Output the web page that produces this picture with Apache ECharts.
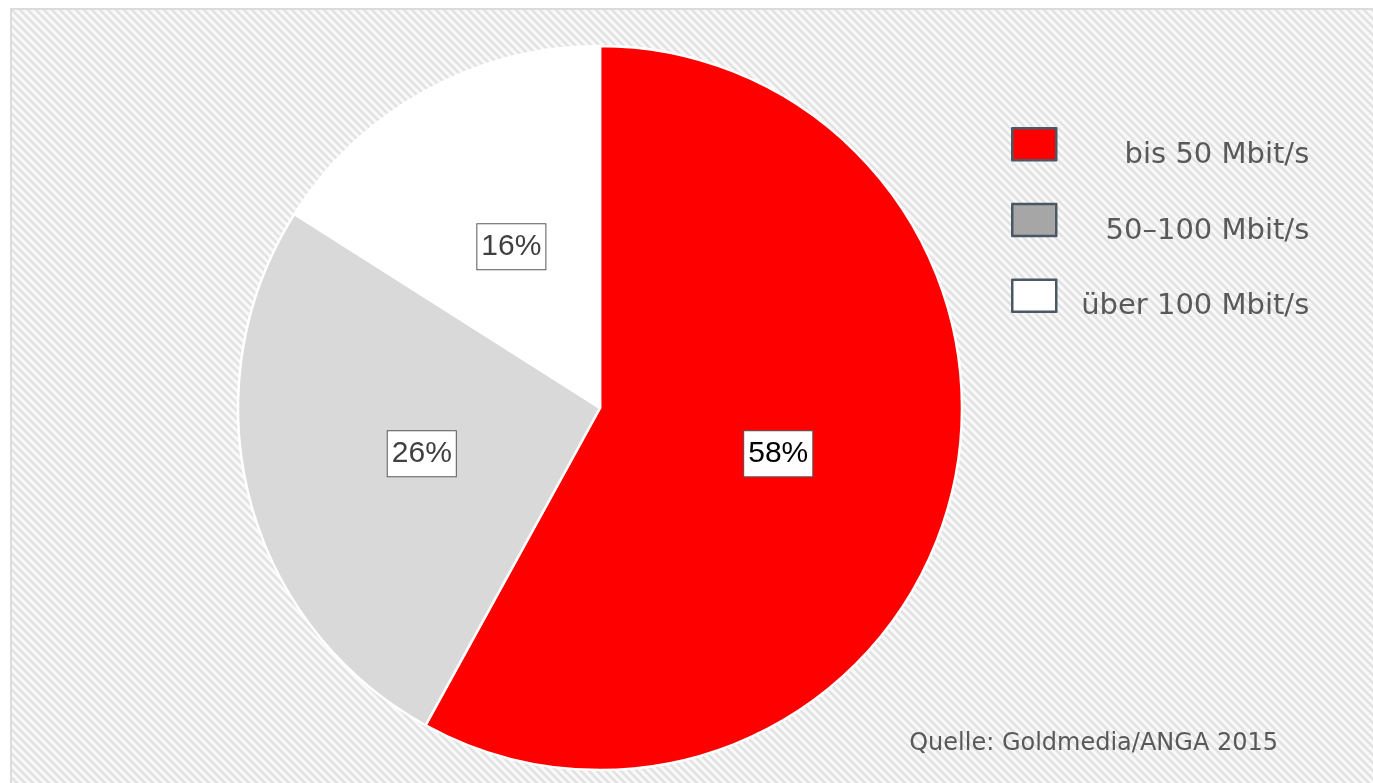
<!DOCTYPE html>
<html>
<head>
<meta charset="utf-8">
<script src="https://cdn.jsdelivr.net/npm/echarts@6/dist/echarts.min.js"></script>
<style>
  html, body { margin: 0; padding: 0; background: #fff; }
  #frame {
    position: absolute; left: 10px; top: 8px; right: 0; bottom: 0;
    border-left: 2px solid #dcdcdc; border-top: 2px solid #dcdcdc;
  }
  #chart { width: 100%; height: 100%; }
</style>
</head>
<body>
<div id="frame"><div id="chart"></div></div>
<script>
const categories = ['bis 50 Mbit/s', '50–100 Mbit/s', 'über 100 Mbit/s'];
const shares = [58, 26, 16];
const sliceColors = ['#ff0000', '#d9d9d9', '#ffffff'];
const legendColors = ['#ff0000', '#a6a6a6', '#ffffff'];
const source = 'Quelle: Goldmedia/ANGA 2015';

// striped background tile
const tile = document.createElement('canvas');
tile.width = tile.height = 8;
const ctx = tile.getContext('2d');
ctx.fillStyle = '#f9f9f9';
ctx.fillRect(0, 0, 8, 8);
ctx.strokeStyle = '#e2e2e2';
ctx.lineWidth = 2.6;
for (let o = -8; o <= 8; o += 8) {
  ctx.beginPath();
  ctx.moveTo(o - 2, -2);
  ctx.lineTo(o + 10, 10);
  ctx.stroke();
}

const chart = echarts.init(document.getElementById('chart'));

chart.setOption({
  backgroundColor: { image: tile, repeat: 'repeat' },
  animation: false,
  legend: {
    orient: 'vertical',
    icon: 'rect',
    left: 994,
    top: 112,
    itemWidth: 44,
    itemHeight: 32,
    itemGap: 33,
    selectedMode: false,
    data: categories.map((name, i) => ({
      name: name,
      itemStyle: { color: legendColors[i], borderColor: '#4a5866', borderWidth: 2.5 }
    })),
    formatter: name => '{t|' + name + '}',
    textStyle: {
      rich: {
        t: {
          width: 248,
          align: 'right',
          fontFamily: 'DejaVu Sans',
          fontSize: 29,
          color: '#595959',
          padding: [22, 0, 0, 0]
        }
      }
    }
  },
  graphic: [{
    type: 'text',
    right: 95,
    bottom: 27,
    style: {
      text: source,
      fontFamily: 'DejaVu Sans',
      fontSize: 24,
      fill: '#595959'
    }
  }],
  series: [{
    type: 'pie',
    center: [588, 398],
    radius: 362,
    startAngle: 90,
    clockwise: true,
    silent: true,
    itemStyle: { borderColor: '#ffffff', borderWidth: 2.5 },
    label: {
      position: 'inside',
      formatter: '{c}%',
      fontFamily: 'Liberation Sans',
      fontSize: 30,
      color: '#404040',
      backgroundColor: '#ffffff',
      borderColor: '#595959',
      borderWidth: 1,
      padding: [8, 4, 7, 4]
    },
    labelLine: { show: false },
    data: categories.map((name, i) => ({
      name: name,
      value: shares[i],
      itemStyle: { color: sliceColors[i] },
      label: i === 0 ? { color: '#000000' } : {}
    }))
  }]
});
</script>
</body>
</html>
